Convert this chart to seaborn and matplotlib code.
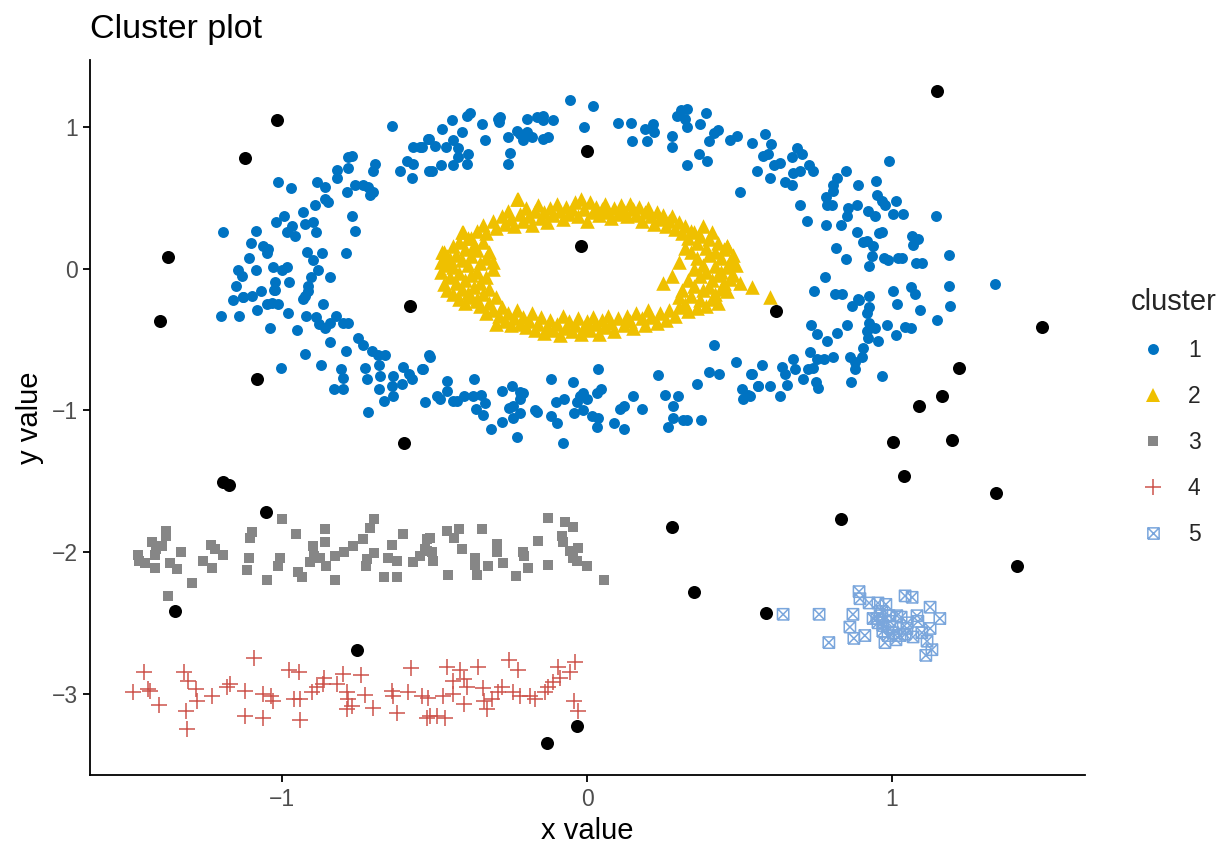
import numpy as np
import pandas as pd
import matplotlib
matplotlib.use("Agg")
import matplotlib.pyplot as plt
from matplotlib.path import Path
from matplotlib.markers import MarkerStyle
from matplotlib.lines import Line2D
import seaborn as sns

# ---------------- data ----------------
cluster1_xy = [
    (-0.056,1.19),(0.02,1.15),(-0.548,0.86),(-0.518,0.92),(-0.50,0.87),(-0.475,0.99),(-0.443,1.05),(-0.462,0.86),
    (-0.44,0.91),(-0.423,0.85),(-0.41,0.97),(-0.393,1.08),(-0.384,1.10),(-0.508,0.69),(-0.479,0.73),(-0.44,0.73),
    (-0.393,0.74),(-0.39,0.81),(-0.423,0.79),(-0.344,1.02),(-0.334,0.91),(-0.292,1.06),(-0.285,1.07),(-0.289,1.04),
    (-0.259,0.93),(-0.252,0.82),(-0.259,0.74),(-0.23,0.975),(-0.22,0.95),(-0.197,1.06),(-0.197,0.97),(-0.18,0.93),
    (-0.164,1.07),(-0.144,1.08),(-0.144,1.05),(-0.144,0.92),(-0.128,0.93),(-0.111,1.05),(-0.21,0.91),(-0.01,1.0),
    (0.10,1.03),(0.144,1.03),(0.148,0.90),(0.19,0.99),(0.197,0.90),(0.216,1.02),(0.22,0.97),(0.279,0.94),
    (0.279,0.86),(0.295,1.08),(0.308,1.12),(0.328,1.13),(0.32,1.06),(0.328,1.0),(0.37,1.02),(0.39,1.10),
    (0.367,0.81),(0.393,0.76),(0.328,0.73),(0.40,0.90),(0.416,0.96),(0.43,0.98),(0.469,0.91),(0.492,0.94),
    (0.54,0.89),(0.557,0.69),(0.50,0.54),
    (0.584,0.95),(0.603,0.88),(0.577,0.80),(0.593,0.81),(0.60,0.64),(0.613,0.73),(0.633,0.75),(0.649,0.61),
    (0.672,0.59),(0.672,0.79),(0.688,0.85),(0.705,0.81),(0.675,0.68),(0.698,0.69),(0.728,0.73),(0.741,0.69),
    (0.70,0.45),(0.72,0.34),(0.783,0.51),(0.787,0.45),(0.803,0.45),(0.783,0.31),(0.807,0.59),(0.82,0.64),
    (0.807,0.55),(0.849,0.69),(0.833,0.31),(0.816,0.15),(0.849,0.07),(0.78,-0.06),(0.744,-0.16),(0.856,0.43),
    (0.885,0.45),(0.852,0.37),(0.889,0.59),(0.921,0.41),(0.944,0.37),(0.948,0.62),(0.951,0.52),(0.967,0.48),
    (0.977,0.45),(1.013,0.48),(1.003,0.39),(1.036,0.39),(0.99,0.76),(0.885,0.26),(0.905,0.19),(0.918,0.20),
    (0.938,0.16),(0.934,0.09),(0.925,0.02),(0.967,0.26),(0.957,0.25),(0.974,0.08),(0.987,0.06),(1.02,0.08),
    (1.033,0.08),(1.066,0.23),(1.085,0.21),(1.069,0.17),(1.079,0.04),(1.10,0.04),(1.144,0.37),(1.187,0.10),
    (1.187,-0.12),(1.338,-0.11),(0.813,-0.18),(0.836,-0.18),(0.889,-0.21),(0.925,-0.19),(1.003,-0.16),(1.062,-0.13),
    (1.075,-0.18),
    (0.892,-0.22),(0.869,-0.26),(0.925,-0.27),(0.918,-0.31),(1.016,-0.25),(1.092,-0.29),(1.19,-0.26),(1.148,-0.36),
    (0.734,-0.40),(0.754,-0.46),(0.787,-0.51),(0.82,-0.45),(0.852,-0.40),(0.918,-0.44),(0.925,-0.38),(0.944,-0.42),
    (0.921,-0.49),(0.954,-0.51),(0.984,-0.40),(1.013,-0.47),(1.043,-0.41),(1.062,-0.42),(0.574,-0.68),(0.541,-0.74),
    (0.534,-0.90),(0.561,-0.83),(0.60,-0.83),(0.633,-0.90),(0.656,-0.82),(0.639,-0.69),(0.649,-0.74),(0.675,-0.64),
    (0.682,-0.71),(0.708,-0.78),(0.731,-0.59),(0.725,-0.71),(0.741,-0.70),(0.754,-0.64),(0.777,-0.64),(0.807,-0.62),
    (0.751,-0.80),(0.757,-0.84),(0.862,-0.62),(0.879,-0.66),(0.879,-0.71),(0.905,-0.56),(0.902,-0.62),(0.866,-0.80),
    (0.967,-0.76),
    (-0.515,-0.62),(-0.538,-0.71),(-0.531,-0.94),(-0.459,-0.79),(-0.459,-0.86),(-0.492,-0.90),(-0.482,-0.92),(-0.44,-0.93),
    (-0.426,-0.93),(-0.403,-0.90),(-0.37,-0.78),(-0.374,-0.90),(-0.348,-0.89),(-0.334,-0.95),(-0.364,-0.99),(-0.341,-1.03),
    (-0.315,-1.13),(-0.279,-0.86),(-0.279,-1.08),(-0.246,-0.83),(-0.256,-0.98),(-0.243,-0.97),(-0.243,-1.05),(-0.22,-1.02),
    (-0.22,-0.87),(-0.21,-0.88),(-0.22,-0.92),(-0.23,-1.19),(-0.17,-1.0),(-0.164,-1.01),(-0.118,-0.78),(-0.118,-1.04),
    (-0.098,-1.09),(-0.102,-0.94),(-0.075,-0.92),(-0.079,-1.23),(-0.046,-0.80),(-0.043,-1.02),(-0.033,-0.94),(-0.023,-0.90),
    (-0.013,-0.88),(0.0,-0.92),(-0.013,-1.0),(0.016,-1.04),(0.036,-1.05),(0.033,-1.12),(0.036,-0.71),(0.033,-0.88),
    (0.046,-0.85),(0.089,-1.09),(0.108,-0.99),(0.121,-0.97),(0.121,-1.13),(0.151,-0.90),(0.18,-0.99),(0.233,-0.75),
    (0.256,-0.89),(0.282,-0.97),(0.298,-0.90),(0.282,-1.05),(0.266,-1.12),(0.315,-1.07),(0.328,-1.07),(0.374,-1.07),
    (0.36,-0.81),(0.40,-0.73),(0.433,-0.74),(0.416,-0.54),(0.489,-0.66),(0.538,-0.74),(0.508,-0.85),(0.511,-0.92),
    (0.528,-0.89),(0.56,-0.83),
    (-1.128,-0.20),(-1.098,-0.19),(-1.069,-0.16),(-1.023,-0.15),(-1.141,-0.33),(-1.082,-0.29),(-1.049,-0.25),(-1.033,-0.24),
    (-1.013,-0.25),(-0.931,-0.21),(-0.915,-0.16),(-0.98,-0.31),(-0.921,-0.33),(-0.866,-0.25),(-1.039,-0.42),(-0.951,-0.43),
    (-0.889,-0.34),(-0.879,-0.39),(-0.859,-0.42),(-0.843,-0.38),(-0.823,-0.33),(-0.80,-0.38),(-0.784,-0.38),(-0.843,-0.52),
    (-0.925,-0.60),(-1.003,-0.70),(-0.872,-0.68),(-0.79,-0.58),(-0.751,-0.49),(-0.734,-0.54),(-0.705,-0.58),(-0.685,-0.61),
    (-0.662,-0.61),(-0.682,-0.68),(-0.807,-0.71),(-0.80,-0.77),(-0.83,-0.85),(-0.80,-0.85),(-0.728,-0.70),(-0.721,-0.78),
    (-0.679,-0.76),(-0.682,-0.85),(-0.666,-0.93),(-0.636,-0.76),(-0.639,-0.83),(-0.636,-0.90),(-0.718,-1.01),(-0.603,-0.69),
    (-0.584,-0.74),(-0.574,-0.78),(-0.607,-0.81),(-0.541,-0.71),(-0.518,-0.61),
    (-0.639,1.01),(-0.521,0.92),(-0.57,0.86),(-0.541,0.86),(-0.59,0.76),(-0.57,0.74),(-0.613,0.69),(-0.574,0.64),
    (-0.518,0.69),(-0.77,0.80),(-0.784,0.79),(-0.82,0.70),(-0.784,0.71),(-0.82,0.64),(-0.695,0.74),(-0.702,0.69),
    (-0.885,0.61),(-0.859,0.58),(-0.787,0.54),(-0.761,0.59),(-0.734,0.59),(-0.718,0.58),(-0.702,0.54),(-0.711,0.52),
    (-0.859,0.49),(-0.849,0.47),(-0.892,0.45),(-0.77,0.37),(-0.761,0.27),(-0.79,0.11),(-0.931,0.40),(-0.898,0.33),
    (-0.925,0.32),(-0.967,0.30),(-0.993,0.37),(-1.02,0.33),(-0.984,0.26),(-0.957,0.23),(-0.889,0.26),(-1.013,0.61),
    (-0.97,0.57),(-1.085,0.27),(-1.102,0.18),(-1.062,0.16),(-1.046,0.14),(-1.049,0.11),(-1.193,0.26),(-0.918,0.12),
    (-0.898,0.06),(-0.869,0.11),(-0.882,-0.01),(-0.843,-0.06),(-0.905,-0.06),(-0.915,-0.12),(-0.925,-0.19),(-0.977,-0.09),
    (-1.03,0.01),(-1.0,-0.01),(-0.984,0.01),(-1.023,-0.09),(-1.026,-0.15),(-1.085,-0.01),(-1.131,-0.05),(-1.128,-0.20),
    (-1.144,-0.01),(-1.16,-0.22),(-1.20,-0.33),(-1.11,0.08),(-1.15,-0.12),
]

cluster2_xy = [
    (-0.38,0.22),(-0.36,0.27),(-0.34,0.31),(-0.33,0.25),(-0.31,0.34),(-0.30,0.29),(-0.28,0.37),(-0.27,0.32),
    (-0.26,0.41),(-0.25,0.35),(-0.24,0.30),(-0.23,0.49),(-0.22,0.39),(-0.21,0.34),(-0.20,0.43),(-0.19,0.37),
    (-0.18,0.31),(-0.17,0.41),(-0.16,0.45),(-0.15,0.36),(-0.14,0.40),(-0.13,0.33),(-0.12,0.43),(-0.11,0.38),
    (-0.10,0.46),(-0.09,0.41),(-0.08,0.35),(-0.07,0.44),(-0.06,0.39),(-0.05,0.42),(-0.04,0.47),(-0.03,0.37),
    (-0.02,0.49),(-0.01,0.42),(0.00,0.34),(0.01,0.47),(0.02,0.40),(0.03,0.44),(0.04,0.38),(0.05,0.42),
    (0.06,0.46),(0.07,0.40),(0.08,0.36),(0.09,0.43),(0.10,0.39),(0.11,0.45),(0.12,0.41),(0.13,0.37),
    (0.14,0.46),(0.15,0.42),(0.16,0.38),(0.17,0.44),(0.18,0.34),(0.19,0.40),(0.20,0.43),(0.21,0.37),
    (0.22,0.32),(0.23,0.40),(0.24,0.35),(0.25,0.38),(0.26,0.30),(0.27,0.34),(0.28,0.37),(0.29,0.28),
    (0.30,0.33),(0.31,0.25),(0.32,0.30),(0.34,0.27),
    (0.33,0.22),(0.35,0.26),(0.36,0.18),(0.37,0.23),(0.38,0.30),(0.39,0.15),(0.40,0.21),(0.41,0.26),
    (0.42,0.12),(0.43,0.18),(0.44,0.08),(0.45,0.14),(0.46,0.16),(0.47,0.05),(0.48,0.10),(0.34,0.12),
    (0.36,0.08),(0.38,0.03),(0.40,0.10),(0.42,0.02),(0.44,-0.02),(0.46,0.01),(0.48,-0.04),(0.49,0.03),
    (0.35,0.00),(0.37,-0.05),(0.39,-0.02),(0.41,-0.08),(0.43,-0.04),(0.45,-0.10),(0.47,-0.07),(0.50,-0.10),
    (0.33,-0.08),(0.35,-0.12),(0.38,-0.15),(0.40,-0.13),(0.42,-0.18),(0.44,-0.14),(0.46,-0.16),(0.31,-0.15),
    (0.34,-0.19),(0.37,-0.22),(0.39,-0.26),(0.41,-0.21),(0.43,-0.24),(0.30,-0.20),(0.32,-0.25),(0.36,-0.28),
    (0.25,-0.10),(0.28,-0.05),(0.30,0.05),(0.32,0.15),(0.54,-0.13),(0.60,-0.20),(0.46,0.16),(0.475,0.05),
    (0.33,-0.30),(0.30,-0.27),(0.29,-0.33),(0.27,-0.29),(0.26,-0.36),(0.24,-0.31),(0.23,-0.38),(0.21,-0.34),
    (0.20,-0.29),(0.19,-0.40),(0.18,-0.35),(0.16,-0.31),(0.15,-0.42),(0.14,-0.37),(0.13,-0.33),(0.12,-0.40),
    (0.10,-0.35),(0.09,-0.44),(0.08,-0.38),(0.07,-0.33),(0.06,-0.41),(0.05,-0.36),(0.04,-0.46),(0.03,-0.39),
    (0.02,-0.34),(0.01,-0.43),(0.00,-0.37),(-0.01,-0.41),(-0.02,-0.46),(-0.03,-0.35),(-0.04,-0.40),(-0.05,-0.44),
    (-0.06,-0.37),(-0.07,-0.42),(-0.08,-0.33),(-0.09,-0.47),(-0.10,-0.39),(-0.11,-0.43),(-0.12,-0.36),(-0.13,-0.41),
    (-0.14,-0.45),(-0.15,-0.34),(-0.16,-0.39),(-0.17,-0.43),(-0.18,-0.31),(-0.19,-0.37),(-0.20,-0.41),(-0.21,-0.34),
    (-0.22,-0.39),(-0.23,-0.29),(-0.24,-0.35),(-0.25,-0.40),(-0.26,-0.31),(-0.27,-0.37),(-0.28,-0.27),(-0.29,-0.33),
    (-0.30,-0.39),(-0.31,-0.29),(-0.32,-0.24),(-0.33,-0.31),(-0.35,-0.26),(-0.36,-0.21),
    (-0.37,0.17),(-0.39,0.22),(-0.41,0.26),(-0.40,0.14),(-0.42,0.19),(-0.44,0.16),(-0.43,0.10),(-0.45,0.07),
    (-0.47,0.12),(-0.38,0.09),(-0.36,0.13),(-0.34,0.19),(-0.33,0.08),(-0.35,0.04),(-0.39,0.03),(-0.41,0.06),
    (-0.44,0.01),(-0.46,0.03),(-0.48,-0.02),(-0.42,-0.03),(-0.38,-0.04),(-0.36,-0.02),(-0.33,-0.06),(-0.31,0.00),
    (-0.40,-0.08),(-0.43,-0.10),(-0.45,-0.06),(-0.47,-0.11),(-0.35,-0.10),(-0.37,-0.13),(-0.39,-0.17),(-0.41,-0.14),
    (-0.44,-0.18),(-0.46,-0.15),(-0.32,-0.14),(-0.34,-0.18),(-0.36,-0.23),(-0.38,-0.20),(-0.40,-0.24),(-0.42,-0.21),
    (-0.30,-0.20),(-0.31,0.05),(-0.32,0.12),(-0.46,0.09),(-0.48,0.05),(-0.475,0.12),(-0.407,0.26),(-0.226,0.49),
]

cluster3_xy = [
    (-1.0,-1.77),(-0.70,-1.77),(-0.711,-1.83),(-1.38,-1.85),(-1.38,-1.89),(-1.098,-1.86),(-1.105,-1.90),(-0.954,-1.87),
    (-0.859,-1.84),(-0.859,-1.93),(-0.603,-1.87),(-1.426,-1.93),(-1.413,-1.98),(-1.393,-1.96),(-1.472,-2.02),(-1.469,-2.06),
    (-1.449,-2.08),(-1.416,-2.02),(-1.416,-2.11),(-1.367,-2.08),(-1.344,-2.12),(-1.331,-2.00),(-1.374,-2.31),(-1.295,-2.22),
    (-1.259,-2.06),(-1.233,-1.95),(-1.23,-2.11),(-1.22,-1.98),(-1.193,-2.02),(-1.108,-2.04),(-1.115,-2.13),(-1.049,-2.20),
    (-1.007,-2.04),(-1.013,-2.10),(-0.948,-2.14),(-0.934,-2.18),(-0.908,-2.07),(-0.898,-1.96),(-0.895,-2.03),(-0.875,-2.04),
    (-0.856,-2.10),(-0.826,-2.03),(-0.826,-2.20),(-0.797,-2.00),(-0.767,-1.96),(-0.734,-1.91),(-0.721,-2.05),(-0.725,-2.10),
    (-0.70,-2.01),(-0.652,-2.04),(-0.639,-1.95),(-0.623,-2.06),(-0.666,-2.18),(-0.623,-2.18),(-0.57,-2.07),(-0.548,-2.03),
    (-0.525,-1.91),(-0.525,-1.99),
    (-0.515,-1.90),(-0.531,-1.98),(-0.508,-2.00),(-0.505,-2.06),(-0.459,-1.85),(-0.42,-1.84),(-0.436,-1.90),(-0.41,-1.98),
    (-0.456,-2.16),(-0.344,-1.84),(-0.367,-2.04),(-0.367,-2.09),(-0.361,-2.16),(-0.325,-2.10),(-0.295,-1.94),(-0.295,-2.0),
    (-0.275,-2.08),(-0.233,-2.17),(-0.21,-2.0),(-0.207,-2.03),(-0.193,-2.11),(-0.161,-1.92),(-0.128,-1.76),(-0.128,-2.09),
    (-0.072,-1.79),(-0.046,-1.82),(-0.082,-1.89),(-0.079,-1.93),(-0.056,-1.99),(-0.03,-1.97),(-0.046,-2.04),(-0.033,-2.06),
    (0.0,-2.10),(0.056,-2.20),
]

cluster4_xy = [
    (-1.452,-2.85),(-1.489,-2.99),(-1.439,-2.97),(-1.433,-2.98),(-1.403,-3.08),(-1.321,-2.85),(-1.308,-2.91),(-1.282,-2.97),
    (-1.279,-3.05),(-1.315,-3.12),(-1.311,-3.25),(-1.23,-3.02),(-1.18,-2.95),(-1.17,-2.93),(-1.121,-2.98),(-1.121,-3.16),
    (-1.092,-2.75),(-1.062,-3.00),(-1.062,-3.17),(-1.036,-3.02),(-1.03,-3.05),(-0.977,-2.83),(-0.944,-2.85),(-0.961,-3.04),
    (-0.941,-3.04),(-0.941,-3.19),(-0.902,-2.99),(-0.885,-2.95),(-0.866,-2.93),(-0.862,-2.89),(-0.82,-2.93),(-0.80,-2.86),
    (-0.787,-2.99),(-0.784,-3.04),(-0.787,-3.11),(-0.77,-3.09),(-0.741,-2.87),(-0.728,-3.01),(-0.702,-3.10),(-0.639,-2.98),
    (-0.636,-3.02),(-0.623,-3.14),(-0.587,-2.99),(-0.577,-2.82),(-0.541,-3.02),(-0.525,-3.17),
    (-0.459,-2.81),(-0.416,-2.83),(-0.357,-2.81),(-0.256,-2.76),(-0.226,-2.83),(-0.44,-2.91),(-0.403,-2.90),(-0.393,-2.95),
    (-0.341,-2.96),(-0.44,-3.00),(-0.472,-3.02),(-0.521,-3.03),(-0.403,-3.07),(-0.338,-3.05),(-0.328,-3.11),(-0.311,-3.04),
    (-0.279,-2.95),(-0.292,-2.99),(-0.243,-2.99),(-0.22,-3.02),(-0.187,-3.02),(-0.17,-3.04),(-0.138,-2.99),(-0.128,-2.95),
    (-0.111,-2.92),(-0.089,-2.89),(-0.095,-2.81),(-0.056,-2.85),(-0.039,-2.78),(-0.043,-3.05),(-0.03,-3.12),(-0.515,-3.16),
    (-0.492,-3.16),(-0.466,-3.17),
]

cluster5_xy = [
    (0.643,-2.44),(0.761,-2.44),(0.793,-2.64),(0.872,-2.44),(0.892,-2.28),(0.895,-2.33),(0.862,-2.53),(0.875,-2.61),
    (0.911,-2.59),(0.925,-2.36),(0.954,-2.36),(0.98,-2.37),(0.938,-2.47),(0.961,-2.45),(0.97,-2.52),(0.977,-2.64),
    (0.993,-2.49),(1.016,-2.45),(1.03,-2.46),(0.97,-2.56),(1.003,-2.57),(1.013,-2.62),(1.043,-2.31),(1.066,-2.32),
    (1.043,-2.58),(1.049,-2.54),(1.082,-2.45),(1.085,-2.49),(1.069,-2.60),(1.098,-2.57),(1.125,-2.39),(1.157,-2.47),
    (1.125,-2.54),(1.115,-2.63),(1.131,-2.69),(1.111,-2.73),(0.954,-2.50),(0.987,-2.59),(1.026,-2.59),(0.967,-2.42),
    (0.95,-2.47),(1.00,-2.53),(1.05,-2.50),(0.99,-2.45),
]

noise_xy = [
    (1.148,1.258),(-1.016,1.05),(-1.121,0.78),(0.0,0.83),(-1.374,0.085),(-0.02,0.16),(-1.40,-0.37),(-0.58,-0.26),
    (0.62,-0.30),(1.492,-0.41),(-1.082,-0.78),(1.22,-0.70),(1.089,-0.97),(1.164,-0.90),(-0.60,-1.23),(1.003,-1.22),
    (1.197,-1.21),(1.039,-1.46),(1.341,-1.58),(-1.193,-1.505),(-1.174,-1.53),(-1.052,-1.72),(0.279,-1.82),(0.833,-1.77),
    (1.41,-2.10),(-1.351,-2.42),(0.351,-2.28),(0.587,-2.43),(-0.754,-2.69),(-0.033,-3.23),(-0.131,-3.35),
]

cluster_labels = ["1", "2", "3", "4", "5"]
cluster_colors = ["#0073C2", "#EFC000", "#868686", "#CD534C", "#7AA6DC"]
title_text = "Cluster plot"
x_label = "x value"
y_label = "y value"
legend_title = "cluster"

# ---------------- assemble ----------------
frames = []
for lab, pts in zip(cluster_labels, [cluster1_xy, cluster2_xy, cluster3_xy, cluster4_xy, cluster5_xy]):
    arr = np.array(pts)
    frames.append(pd.DataFrame({"x": arr[:, 0], "y": arr[:, 1], "cluster": lab}))
df = pd.concat(frames, ignore_index=True)
noise = pd.DataFrame(np.array(noise_xy), columns=["x", "y"])

sns.set_theme(style="ticks")
plt.rcParams["font.family"] = ["Liberation Sans", "DejaVu Sans"]

fig = plt.figure(figsize=(12.25, 8.44), dpi=100)
ax = fig.add_axes([90 / 1225, 1 - 775 / 844, (1085 - 90) / 1225, (775 - 60) / 844])

# square with a cross (ggplot shape 7)
sq_x = Path([(-1, -1), (1, -1), (1, 1), (-1, 1), (-1, -1), (-1, -1), (1, 1), (-1, 1), (1, -1)],
            [Path.MOVETO, Path.LINETO, Path.LINETO, Path.LINETO, Path.LINETO,
             Path.MOVETO, Path.LINETO, Path.MOVETO, Path.LINETO])
sqx_marker = MarkerStyle(sq_x, fillstyle="none")

style = {
    "1": dict(marker="o", s=62, linewidth=0),
    "2": dict(marker="^", s=110, linewidth=0),
    "3": dict(marker="s", s=55, linewidth=0),
    "4": dict(marker="+", s=120, linewidth=1.1),
    "5": dict(marker=sqx_marker, s=66, linewidth=1.1),
}

for lab, col in zip(cluster_labels, cluster_colors):
    sub = df[df["cluster"] == lab]
    sns.scatterplot(data=sub, x="x", y="y", color=col, ax=ax, legend=False, **style[lab])

sns.scatterplot(data=noise, x="x", y="y", color="black", marker="o", s=88, linewidth=0, ax=ax, legend=False)

ax.set_xlim(-1.630, 1.633)
ax.set_ylim(-3.575, 1.475)
ax.set_xticks([-1, 0, 1])
ax.set_yticks([-3, -2, -1, 0, 1])
ax.set_xticklabels(["\u22121", "0", "1"])
ax.set_yticklabels(["\u22123", "\u22122", "\u22121", "0", "1"])

for side in ["top", "right"]:
    ax.spines[side].set_visible(False)
for side in ["left", "bottom"]:
    ax.spines[side].set_color("black")
    ax.spines[side].set_linewidth(1.3)
ax.tick_params(axis="both", direction="out", length=5, width=1.3, color="black",
               labelcolor="#4D4D4D", labelsize=16.5, pad=4)
ax.set_xlabel(x_label, fontsize=21, color="black", labelpad=5)
ax.set_ylabel(y_label, fontsize=21, color="black", labelpad=5)
ax.set_title(title_text, loc="left", fontsize=24.5, color="black", pad=16)
ax.grid(False)
ax.set_facecolor("white")

handles = []
for lab, col in zip(cluster_labels, cluster_colors):
    st = style[lab]
    ms = np.sqrt(st["s"])
    if lab == "5":
        h = Line2D([], [], linestyle="none", marker=sq_x, markersize=ms, markerfacecolor="none",
                   markeredgecolor=col, markeredgewidth=1.1)
    elif lab == "4":
        h = Line2D([], [], linestyle="none", marker="+", markersize=ms, color=col, markeredgewidth=1.1)
    else:
        h = Line2D([], [], linestyle="none", marker=st["marker"], markersize=ms, markerfacecolor=col,
                   markeredgewidth=0, color=col)
    handles.append(h)

leg = fig.legend(handles, cluster_labels, title=legend_title, loc="center left",
                 bbox_to_anchor=(1119 / 1225, 1 - 417 / 844), bbox_transform=fig.transFigure,
                 frameon=False, fontsize=16.5, title_fontsize=21, borderpad=0,
                 handlelength=2.0, handletextpad=0.5, labelspacing=1.0, alignment="left")

fig.savefig("out.png", dpi=100, facecolor="white")
